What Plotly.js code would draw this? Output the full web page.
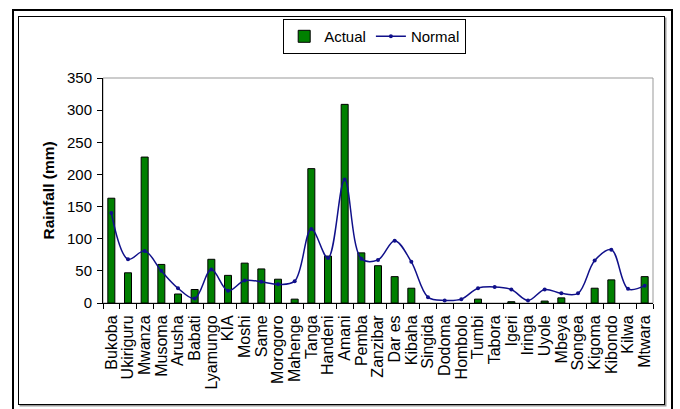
<!DOCTYPE html>
<html>
<head>
<meta charset="utf-8">
<script src="https://cdn.plot.ly/plotly-3.0.1.min.js"></script>
<style>
  html, body { margin: 0; padding: 0; background: #fff; }
  #wrap { position: relative; width: 680px; height: 409px; overflow: hidden; }
  #chart { position: absolute; left: 0; top: 0; width: 680px; height: 409px; }
  #outer { position: absolute; left: 12px; top: 9px; width: 657px; height: 420px; border: 2.5px solid #000; pointer-events: none; }
  #inner { position: absolute; left: 18px; top: 16px; width: 645px; height: 387px; border: 1px solid #000; box-shadow: 1.5px 1.5px 0 #999; pointer-events: none; }
</style>
</head>
<body>
<div id="wrap">
  <div id="chart"></div>
  <div id="outer"></div>
  <div id="inner"></div>
</div>
<script>
const stations = ["Bukoba","Ukiriguru","Mwanza","Musoma","Arusha","Babati","Lyamungo","KIA","Moshi","Same","Morogoro","Mahenge","Tanga","Handeni","Amani","Pemba","Zanzibar","Dar es","Kibaha","Singida","Dodoma","Hombolo","Tumbi","Tabora","Igeri","Iringa","Uyole","Mbeya","Songea","Kigoma","Kibondo","Kilwa","Mtwara"];
const actual = [163, 47, 227, 60, 14, 21, 68, 43, 62, 53, 37, 6, 209, 73, 309, 78, 58, 41, 23, null, null, null, 6, null, 2, null, 3, 8, null, 23, 36, null, 41];
const normal = [140, 68, 81, 50, 23, 7, 52, 19, 35, 33, 29, 34, 115, 70, 192, 69, 67, 97, 64, 9, 4, 6, 23, 25, 21, 4, 21, 15, 15, 66, 83, 22, 27];
const yTicks = [0, 50, 100, 150, 200, 250, 300, 350];
const yTitle = "Rainfall (mm)";

const font = "Liberation Sans, Arial, sans-serif";

const traces = [
  {
    type: "bar", name: "Actual", x: stations, y: actual,
    marker: { color: "#008000", line: { color: "#000", width: 1 } }
  },
  {
    type: "scatter", mode: "lines+markers", name: "Normal", x: stations, y: normal,
    line: { color: "#10108a", width: 1.5, shape: "spline", smoothing: 1 },
    marker: { color: "#10108a", size: 4 }
  }
];

const layout = {
  width: 680, height: 409,
  margin: { l: 103, r: 27, t: 78, b: 106 },
  paper_bgcolor: "#fff", plot_bgcolor: "#fff",
  font: { family: font, size: 15, color: "#000" },
  bargap: 0.58,
  showlegend: true,
  legend: {
    orientation: "h", x: 0.494, xanchor: "center", y: 1.262, yanchor: "top",
    bordercolor: "#000", borderwidth: 1, font: { size: 15 },
    traceorder: "normal", itemwidth: 30
  },
  xaxis: {
    type: "category", range: [-0.5, stations.length - 0.5],
    tickmode: "array", tickvals: stations, ticktext: stations,
    tickangle: -90, ticks: "outside", ticklen: 5, tickson: "boundaries",
    ticklabelstandoff: 5,
    tickcolor: "#000", showline: true, linecolor: "#000", linewidth: 1,
    showgrid: false, tickfont: { size: 16 }, automargin: false
  },
  yaxis: {
    range: [0, 350], tickmode: "array", tickvals: yTicks, ticktext: yTicks.map(String),
    ticks: "outside", ticklen: 5, tickcolor: "#000", ticklabelstandoff: 2,
    showline: true, linecolor: "#000", linewidth: 1, showgrid: false, zeroline: false,
    tickfont: { size: 15 }, automargin: false
  },
  annotations: [
    { xref: "paper", yref: "paper", x: -0.1, y: 0.5, xanchor: "center", yanchor: "middle",
      textangle: -90, showarrow: false, text: "<b>" + yTitle + "</b>", font: { size: 15.5 } }
  ],
  shapes: [
    { type: "rect", xref: "paper", yref: "paper", x0: 0, x1: 1, y0: 0, y1: 1,
      line: { color: "#999", width: 1 }, layer: "below" }
  ]
};

Plotly.newPlot("chart", traces, layout, { staticPlot: true, displayModeBar: false });
</script>
</body>
</html>
